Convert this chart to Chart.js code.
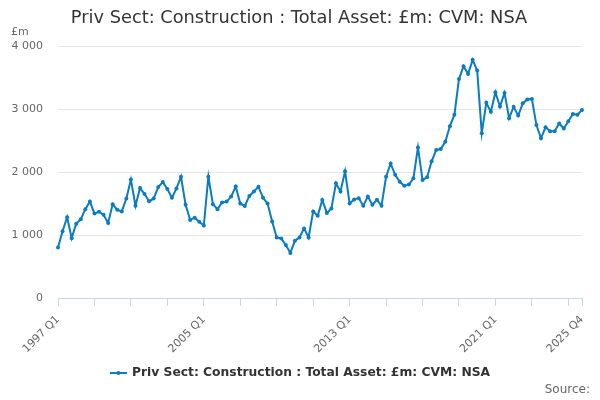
<!DOCTYPE html>
<html>
<head>
<meta charset="utf-8">
<script src="https://cdn.jsdelivr.net/npm/chart.js@4/dist/chart.umd.min.js"></script>
<style>
  html, body { margin: 0; padding: 0; background: #fff; }
  #wrap { width: 600px; height: 400px; position: relative; }
</style>
</head>
<body>
<div id="wrap"><canvas id="assetChart"></canvas></div>
<script>
// Quarterly categories 1997 Q1 .. 2025 Q4
const years = [];
for (let y = 1997; y <= 2025; y++) years.push(y);
const quarters = years.flatMap(y => ["Q1", "Q2", "Q3", "Q4"].map(q => `${y} ${q}`));

// Values (£m)
const assetValues = [
  800, 1060, 1280, 950, 1180, 1250, 1410, 1530, 1340, 1370, 1320, 1190,
  1490, 1400, 1375, 1580, 1880, 1465, 1745, 1650, 1535, 1580, 1760, 1840,
  1730, 1590, 1740, 1925, 1480, 1240, 1275, 1210, 1150, 1925, 1490, 1410,
  1515, 1530, 1610, 1770, 1500, 1460, 1620, 1690, 1765, 1590, 1500, 1215,
  960, 945, 840, 715, 910, 960, 1105, 960, 1375, 1305, 1555, 1350,
  1420, 1820, 1690, 2010, 1500, 1565, 1585, 1465, 1610, 1480, 1560, 1465,
  1925, 2135, 1955, 1845, 1780, 1800, 1900, 2390, 1875, 1915, 2170, 2350,
  2365, 2480, 2725, 2910, 3475, 3680, 3555, 3780, 3610, 2615, 3100, 2955,
  3265, 3040, 3255, 2855, 3035, 2895, 3090, 3150, 3160, 2745, 2535, 2710,
  2645, 2645, 2770, 2690, 2805, 2920, 2910, 2985
];

const tickLabels = ["1997 Q1", "2005 Q1", "2013 Q1", "2021 Q1", "2025 Q4"];
const yTicks = [0, 1000, 2000, 3000, 4000];

const seriesName = "Priv Sect: Construction : Total Asset: £m: CVM: NSA";
const chartTitle = "Priv Sect: Construction : Total Asset: £m: CVM: NSA";
const unitLabel = "£m";
const sourceText = "Source:";

const lineColor = "#0a7cc1";
const fontFamily = "'DejaVu Sans', sans-serif";

function spaced(n) {
  return String(n).replace(/\B(?=(\d{3})+(?!\d))/g, " ");
}

// title, unit, legend and source text
const decorations = {
  id: "decorations",
  afterDraw(chart) {
    const ctx = chart.ctx;
    ctx.save();
    ctx.textBaseline = "middle";

    ctx.fillStyle = "#333";
    ctx.font = "17.8px " + fontFamily;
    ctx.textAlign = "center";
    ctx.fillText(chartTitle, 299, 18);

    ctx.fillStyle = "#666";
    ctx.font = "11px " + fontFamily;
    ctx.textAlign = "left";
    ctx.fillText(unitLabel, 11, 32);

    ctx.font = "bold 12.3px " + fontFamily;
    const tw = ctx.measureText(seriesName).width;
    const sample = 17, gap = 5;
    const x0 = 300 - (sample + gap + tw) / 2;
    const ly = 373;
    ctx.strokeStyle = lineColor;
    ctx.lineWidth = 2;
    ctx.beginPath();
    ctx.moveTo(x0, ly);
    ctx.lineTo(x0 + sample, ly);
    ctx.stroke();
    ctx.fillStyle = lineColor;
    ctx.beginPath();
    ctx.arc(x0 + sample / 2, ly, 2, 0, Math.PI * 2);
    ctx.fill();
    ctx.fillStyle = "#333";
    ctx.fillText(seriesName, x0 + sample + gap, ly);

    ctx.fillStyle = "#666";
    ctx.font = "12px " + fontFamily;
    ctx.textAlign = "right";
    ctx.fillText(sourceText, 590, 390);
    ctx.restore();
  }
};

const ctx = document.getElementById("assetChart").getContext("2d");
new Chart(ctx, {
  type: "line",
  data: {
    labels: quarters,
    datasets: [{
      label: seriesName,
      data: assetValues,
      borderColor: lineColor,
      backgroundColor: lineColor,
      borderWidth: 2,
      pointRadius: 2,
      pointHoverRadius: 3,
      pointBackgroundColor: lineColor,
      pointBorderWidth: 0,
      tension: 0,
      fill: false
    }]
  },
  options: {
    responsive: true,
    maintainAspectRatio: false,
    animation: false,
    layout: {
      padding: { top: 46, right: 18, bottom: 40, left: 0 }
    },
    plugins: {
      legend: { display: false },
      title: { display: false },
      tooltip: { enabled: false }
    },
    scales: {
      x: {
        offset: false,
        afterFit(scale) { scale.height = 62; },
        border: { display: true, color: "#ccd6eb", width: 1 },
        grid: {
          drawOnChartArea: false,
          drawTicks: true,
          tickLength: 8,
          color: "#ccd6eb"
        },
        ticks: {
          autoSkip: false,
          maxRotation: 45,
          minRotation: 45,
          padding: 7,
          color: "#666",
          font: { family: fontFamily, size: 11 },
          callback(value, index) {
            const label = quarters[index];
            if (tickLabels.includes(label)) return label;
            if (index % 8 === 0 || index === quarters.length - 1) return "";
            return null;
          }
        }
      },
      y: {
        min: yTicks[0],
        max: yTicks[yTicks.length - 1],
        afterFit(scale) { scale.width = 58; },
        afterBuildTicks(scale) {
          scale.ticks = yTicks.map(v => ({ value: v }));
        },
        border: { display: false },
        grid: { color: "#e6e6e6", drawTicks: false },
        ticks: {
          padding: 15,
          color: "#666",
          font: { family: fontFamily, size: 11 },
          callback: v => spaced(v)
        }
      }
    }
  },
  plugins: [decorations]
});
</script>
</body>
</html>
